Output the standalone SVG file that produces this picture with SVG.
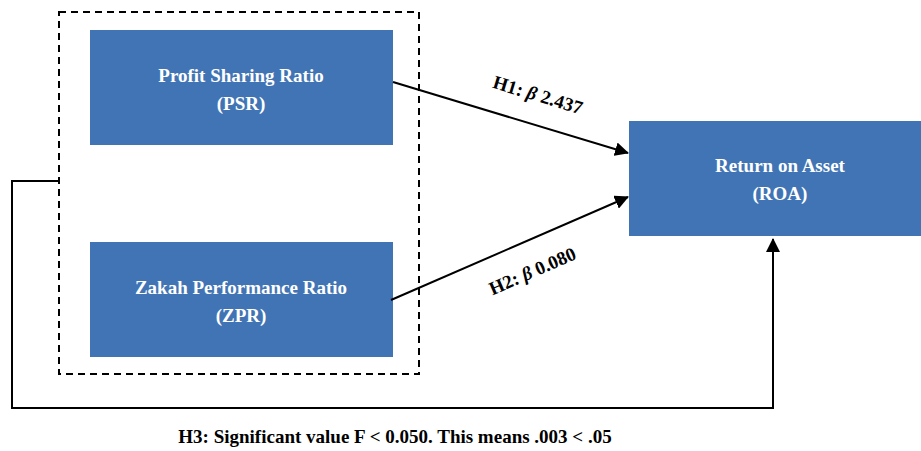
<svg xmlns="http://www.w3.org/2000/svg" width="921" height="451" viewBox="0 0 921 451">
<defs>
<style>
.box{fill:#4174b4;}
.bt{font-family:"Liberation Serif","Times New Roman",serif;font-weight:bold;font-size:19px;fill:#ffffff;text-anchor:middle;}
.lbl{font-family:"Liberation Serif","Times New Roman",serif;font-weight:bold;font-size:19px;fill:#000;text-anchor:middle;}
.ln{stroke:#000;stroke-width:2;fill:none;}
</style>
<marker id="ah2" markerWidth="14" markerHeight="14" refX="13" refY="7" orient="auto" markerUnits="userSpaceOnUse" viewBox="0 0 14 14">
<path d="M0,0 L14,7 L0,14 z" fill="#000"/>
</marker>
</defs>
<rect width="921" height="451" fill="#fff"/>
<g id="group-box">
<rect x="59" y="12" width="360" height="362" fill="none" stroke="#000" stroke-width="2" stroke-dasharray="7,5"/>
</g>
<g id="psr">
<rect class="box" x="90" y="30" width="303" height="115"/>
<text class="bt" x="241" y="82">Profit Sharing Ratio</text>
<text class="bt" x="241" y="110">(PSR)</text>
</g>
<g id="zpr">
<rect class="box" x="90" y="242" width="303" height="115"/>
<text class="bt" x="241" y="294">Zakah Performance Ratio</text>
<text class="bt" x="241" y="322">(ZPR)</text>
</g>
<g id="roa">
<rect class="box" x="629" y="121" width="292" height="115"/>
<text class="bt" x="780" y="172">Return on Asset</text>
<text class="bt" x="780" y="200">(ROA)</text>
</g>
<g id="connectors">
<line class="ln" x1="393" y1="82" x2="628" y2="153" marker-end="url(#ah2)"/>
<line class="ln" x1="391" y1="300" x2="628" y2="197" marker-end="url(#ah2)"/>
<polyline class="ln" points="59,181 12,181 12,408 773,408 773,239" marker-end="url(#ah2)"/>
<text class="lbl" transform="translate(536,101) rotate(16.8)">H1: <tspan font-style="italic">β</tspan> 2.437</text>
<text class="lbl" transform="translate(535,277) rotate(-23.5)">H2: <tspan font-style="italic">β</tspan> 0.080</text>
</g>
<text class="lbl" x="395" y="443" font-size="18">H3: Significant value F &lt; 0.050. This means .003 &lt; .05</text>
</svg>
